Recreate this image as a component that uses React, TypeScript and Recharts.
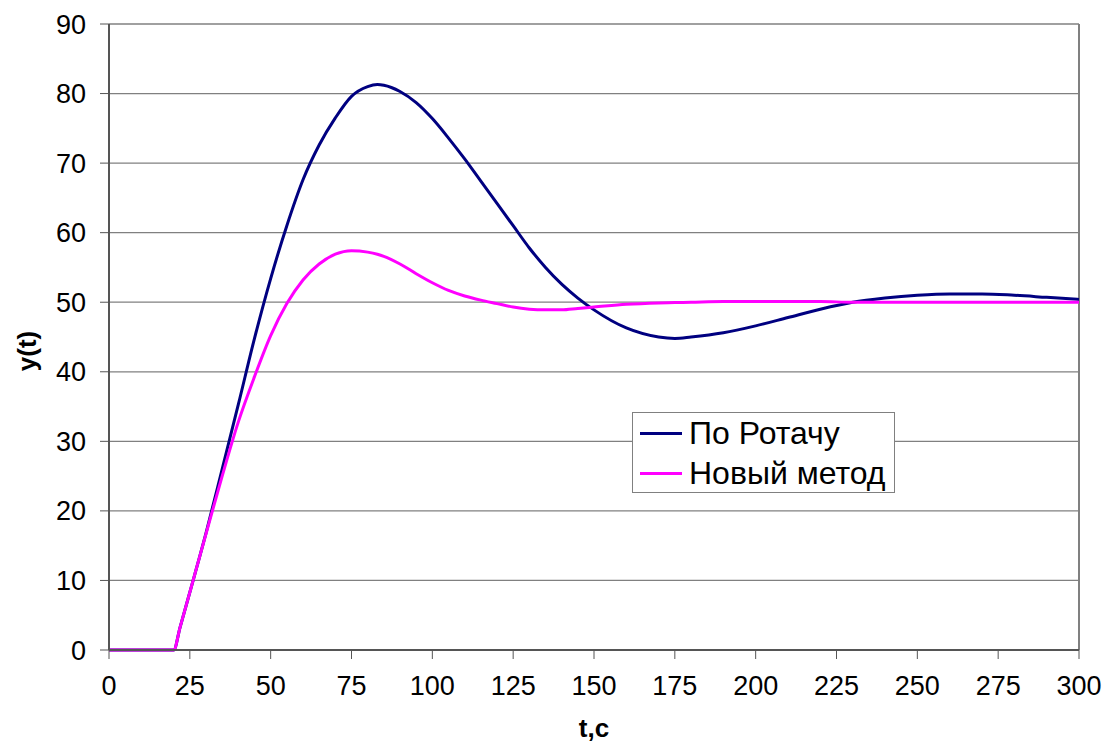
import React from 'react';
import { CartesianGrid, Label, Line, LineChart, ReferenceLine, XAxis, YAxis } from 'recharts';

// time points, s
const times = [
  0, 10, 20, 22, 25, 30, 35, 40, 45, 50, 55, 60, 65, 70, 75, 80, 83, 85, 90, 95, 100, 105, 110, 115, 120, 125,
  130, 135, 140, 145, 150, 160, 170, 175, 180, 190, 200, 210, 220, 230, 240, 250, 260, 270, 280, 290, 300
];

// "По Ротачу"
const rotach = [
  0, 0, 0, 3.3, 8.3, 16.8, 26.0, 35.3, 44.8, 53.4, 61.0, 67.6, 72.6, 76.5, 79.6, 81.0, 81.3, 81.2, 80.3, 78.7,
  76.4, 73.6, 70.6, 67.4, 64.2, 61.0, 57.8, 55.0, 52.6, 50.6, 48.9, 46.3, 45.0, 44.8, 45.0, 45.6, 46.6, 47.8,
  49.0, 50.0, 50.6, 51.0, 51.2, 51.2, 51.0, 50.7, 50.4
];

// "Новый метод"
const novyi = [
  0, 0, 0, 3.3, 8.3, 16.7, 25.0, 32.8, 39.3, 45.2, 49.8, 53.2, 55.5, 56.9, 57.4, 57.2, 56.9, 56.6, 55.5, 54.1,
  52.8, 51.7, 50.9, 50.3, 49.8, 49.3, 49.0, 48.9, 48.9, 49.1, 49.3, 49.7, 49.9, 49.95, 50.0, 50.1, 50.1, 50.1,
  50.1, 50.0, 50.0, 50.0, 50.0, 50.0, 50.0, 50.0, 50.0
];

const xTicks = [0, 25, 50, 75, 100, 125, 150, 175, 200, 225, 250, 275, 300];
const yTicks = [0, 10, 20, 30, 40, 50, 60, 70, 80, 90];

const seriesInfo = [
  { key: 'rotach', name: 'По Ротачу', color: '#000080' },
  { key: 'novyi', name: 'Новый метод', color: '#FF00FF' }
];

const data = times.map((t, i) => ({ t, rotach: rotach[i], novyi: novyi[i] }));

const FONT = '"Liberation Sans", Arial, sans-serif';

const ChartLegend = () => (
  <div
    style={{
      position: 'absolute',
      left: 632,
      top: 412,
      width: 263,
      height: 81,
      boxSizing: 'border-box',
      border: '1px solid #808080',
      background: '#fff',
      fontFamily: FONT,
      fontSize: 32,
      color: '#000'
    }}
  >
    {seriesInfo.map((s) => (
      <div key={s.key} style={{ height: 40, display: 'flex', alignItems: 'center' }}>
        <div style={{ width: 42, height: 3, marginLeft: 7, marginRight: 7, background: s.color }} />
        <span>{s.name}</span>
      </div>
    ))}
  </div>
);

const YLabel = (props: any) => {
  const vb = props.viewBox || {};
  const cx = 27;
  const cy = vb.y + vb.height / 2 + 14;
  return (
    <text
      x={cx}
      y={cy}
      transform={`rotate(-90, ${cx}, ${cy})`}
      textAnchor="middle"
      dominantBaseline="central"
      fontFamily={FONT}
      fontSize={26}
      fontWeight="bold"
      fill="#000"
    >
      y(t)
    </text>
  );
};

export default function App() {
  return (
    <div style={{ position: 'absolute', left: 0, top: 0, width: 1110, height: 749, background: '#fff' }}>
      <LineChart
        width={1110}
        height={749}
        data={data}
        margin={{ top: 24, right: 31, bottom: 39, left: 29 }}
        style={{ fontFamily: FONT }}
      >
        <CartesianGrid vertical={false} stroke="#808080" strokeWidth={1.3} />
        <XAxis
          dataKey="t"
          type="number"
          domain={[0, 300]}
          ticks={xTicks}
          height={60}
          tickSize={9}
          tickMargin={17}
          tick={{ fill: '#000', fontSize: 27, fontFamily: FONT }}
          tickLine={{ stroke: '#555' }}
          axisLine={{ stroke: '#555', strokeWidth: 2 }}
        >
          <Label
            value="t,c"
            position="bottom"
            offset={9}
            style={{ fontSize: 26, fontWeight: 'bold', fill: '#000', fontFamily: FONT }}
          />
        </XAxis>
        <YAxis
          type="number"
          domain={[0, 90]}
          ticks={yTicks}
          width={80}
          tickSize={9}
          tickMargin={14}
          tick={{ fill: '#000', fontSize: 27, fontFamily: FONT }}
          tickLine={{ stroke: '#555' }}
          axisLine={{ stroke: '#555', strokeWidth: 2 }}
        >
          <Label content={YLabel} />
        </YAxis>
        <ReferenceLine x={300} stroke="#808080" strokeWidth={2} />
        {seriesInfo.map((s) => (
          <Line
            key={s.key}
            type="monotone"
            dataKey={s.key}
            name={s.name}
            stroke={s.color}
            strokeWidth={3}
            dot={false}
            isAnimationActive={false}
          />
        ))}
      </LineChart>
      <ChartLegend />
    </div>
  );
}
